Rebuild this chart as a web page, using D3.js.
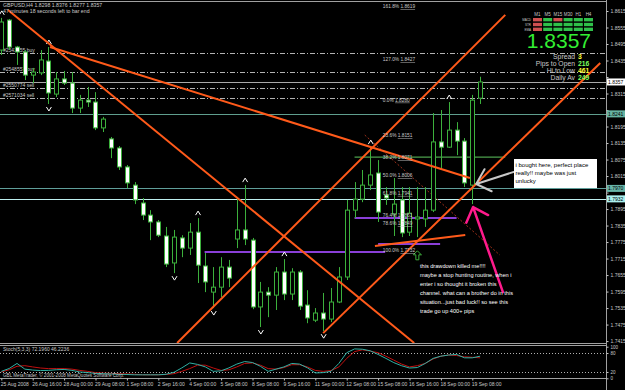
<!DOCTYPE html>
<html>
<head>
<meta charset="utf-8">
<script src="https://cdn.jsdelivr.net/npm/d3@7"></script>
<style>
body { margin: 0; background: #000; }
svg { display: block; font-family: "Liberation Sans", Arial, sans-serif; }
</style>
</head>
<body>
<svg id="chart" width="625" height="390"></svg>
<script>
// GBPUSD H4 candles
const open = [1.8473,1.8582,1.8484,1.8466,1.8382,1.8390,1.8433,1.8313,1.8368,1.8353,
  1.8262,1.8291,1.8284,1.8190,1.8150,1.8117,1.8048,1.7982,1.7917,1.7873,
  1.7848,1.7797,1.7699,1.7790,1.7753,1.7811,1.7688,1.7593,1.7611,1.7684,
  1.7786,1.7819,1.7782,1.7539,1.7593,1.7582,1.7666,1.7586,1.7666,1.7546,
  1.7491,1.7517,1.7495,1.7557,1.7648,1.7891,1.7931,1.7982,1.8026,1.7946,
  1.7877,1.7928,1.7811,1.7859,1.7859,1.7891,1.8139,1.8120,1.8182,1.8142,
  1.7982,1.8298];
const high = [1.8590,1.8586,1.8488,1.8473,1.8408,1.8473,1.8484,1.8393,1.8397,1.8393,
  1.8310,1.8339,1.8320,1.8230,1.8157,1.8124,1.8055,1.7993,1.7935,1.7891,
  1.7855,1.7830,1.7819,1.7800,1.7844,1.7862,1.7735,1.7684,1.7720,1.7710,
  1.7939,1.7982,1.7790,1.7630,1.7611,1.7684,1.7713,1.7680,1.7673,1.7600,
  1.7535,1.7590,1.7608,1.7684,1.7928,1.7993,1.8037,1.8120,1.8073,1.7975,
  1.8008,1.7975,1.7975,1.7975,1.7975,1.8244,1.8255,1.8284,1.8211,1.8153,
  1.8310,1.8376];
const low = [1.8455,1.8473,1.8419,1.8364,1.8353,1.8382,1.8277,1.8302,1.8346,1.8244,
  1.8244,1.8266,1.8182,1.8175,1.8080,1.8037,1.7971,1.7913,1.7855,1.7782,
  1.7793,1.7684,1.7662,1.7720,1.7728,1.7626,1.7593,1.7535,1.7575,1.7611,
  1.7753,1.7764,1.7531,1.7466,1.7502,1.7528,1.7564,1.7564,1.7528,1.7480,
  1.7484,1.7451,1.7484,1.7553,1.7637,1.7862,1.7920,1.7964,1.7848,1.7910,
  1.7797,1.7793,1.7797,1.7793,1.7830,1.7884,1.8037,1.8117,1.8091,1.7975,
  1.7913,1.8277];
const close = [1.8575,1.8484,1.8466,1.8382,1.8393,1.8437,1.8317,1.8368,1.8353,1.8262,
  1.8291,1.8284,1.8190,1.8222,1.8117,1.8048,1.7990,1.7928,1.7873,1.7848,
  1.7800,1.7695,1.7793,1.7753,1.7811,1.7691,1.7630,1.7611,1.7684,1.7644,
  1.7819,1.7786,1.7539,1.7593,1.7582,1.7666,1.7586,1.7666,1.7542,1.7499,
  1.7517,1.7495,1.7557,1.7648,1.7891,1.7931,1.7982,1.8019,1.7884,1.7935,
  1.7913,1.7808,1.7880,1.7866,1.7891,1.8139,1.8120,1.8182,1.8142,1.7990,
  1.8291,1.8357];

const stochMain = [22,31,47,29,26,24.5,25,27,28,25, 20,18,15.5,14.6,13.7,12.8,12,11,11,11,
  11,12.8,19,33,48.6,44,36,22,23.6,33, 45,53,50,38,22,29,36,47,45,33,
  17,18,22,47,81,93,92,87,75.5,63, 49.6,39.7,32.5,34,47,63,70,73.7,75.5,64.8, 64.8,70];
const stochSignal = [20,27,38,40,36,32.5,30.7,30.7,30.7,29, 25,22,18,16.4,15.5,14.6,13.7,12.8,11,11,
  11,12,14.6,22,30.7,41.5,41.5,32.5,25,27, 36,47,48.6,41.5,30.7,29,34,43,43,36,
  25,22,24.5,36,63,84.5,90,86,81,70, 57.6,45,36,40,47,61,70,73.7,72,68, 66.6,64.8];

const priceTicks = d3.range(21).map(i => +(1.8615 - i * 0.006).toFixed(4));
const timeLabels = ['25 Aug 2008','26 Aug 16:00','28 Aug 00:00','29 Aug 08:00','1 Sep 08:00','2 Sep 16:00',
  '4 Sep 00:00','5 Sep 08:00','8 Sep 08:00','9 Sep 16:00','11 Sep 00:00','12 Sep 08:00',
  '15 Sep 08:00','16 Sep 16:00','18 Sep 00:00','19 Sep 08:00'];
const stochTicks = [0, 20, 80, 100];

const fibNames = ['161.8','127.0','0.0','23.6','38.2','50.0','61.8','76.4','78.6','100.0'];
const fibPrices = [1.8619,1.8427,1.8280,1.8151,1.8071,1.8006,1.7941,1.7861,1.7849,1.7732];
const fibBar = 48.6;

const orderNames = ['#2541755 buy','#2548557 buy','#2550774 sell','#2571034 sell'];
const orderPrices = [1.8462,1.8393,1.8335,1.8299];

const levelPrices = [1.8241, 1.7970, 1.7932];
const levelColors = ['#5f9e8e', '#5f9e9a', '#bdeeee'];

// trend lines as [bar, price] anchors
const trendLines = [
  [[0.85, 1.8619], [52.6, 1.7408]],
  [[6.2, 1.8484], [59.7, 1.8008]],
  [[22.4, 1.7408], [64.2, 1.8601]],
  [[41.0, 1.7444], [76.3, 1.8426]],
  [[47.6, 1.7761], [59.1, 1.7801]]
];
const purpleLines = [[25.9, 48.9, 1.7739], [48.0, 55.9, 1.7768], [45.0, 58.0, 1.7862]];
const greenLines = [[45.0, 64.2, 1.8084]];
const fibTrend = [[46.3, 1.8164], [63.5, 1.7728]];

const fractalUp = [0, 6, 25, 31, 36, 47, 57];
const fractalDown = [6, 22, 27, 33, 41];
const buyArrows = [[53, 1.7725]];

const pointers = [
  {from: [63.9, 1.7593], to: [60.1, 1.7902], color: '#ff1a8c', width: 2.5},
  {from: [65.3, 1.8030], to: [60.5, 1.7986], color: '#c8c8c8', width: 2}
];

const tfNames = ['M1','M5','M15','M30','H1','H4'];
const rowNames = ['MACD','STR','EMA'];
const signalGrid = [[0,1,0,1,1,1],[0,1,1,1,1,1],[0,1,1,1,1,1]];
const statNames = ['Spread','Pips to Open','Hi to Low','Daily Av'];
const statValues = ['3','216','461','249'];
const statColors = ['#ffff33','#7cff5c','#ffff33','#7cff5c'];

const boughtNote = ['i bought here, perfect place', 'really!! maybe was just', 'unlucky'];
const drawdownNote = ['this drawdown killed me!!!!', 'maybe a stop hunting routine, when i',
  'enter i so thought it broken this', 'channel. what can a brother do in this',
  'situation...just bad luck!! so see this', 'trade go up 400+ pips'];

const plotRight = 606, mainBottom = 343;
const green = '#3cb03c', fg = '#c8c8c8';

const x = d3.scaleLinear().domain([0, 61]).range([1.3, 480.15]);
const y = d3.scaleLinear().domain([1.7408, 1.8655]).range([mainBottom, 0]);
const ys = d3.scaleLinear().domain([0, 100]).range([378.3, 346.7]);

const svg = d3.select('#chart');
svg.append('rect').attr('width', 625).attr('height', 390).attr('fill', '#000');

svg.append('defs').append('clipPath').attr('id', 'mainclip')
  .append('rect').attr('width', plotRight).attr('height', mainBottom);

const main = svg.append('g').attr('clip-path', 'url(#mainclip)');

// order lines
main.selectAll('.order').data(orderPrices).enter().append('line')
  .attr('x1', 0).attr('x2', plotRight)
  .attr('y1', d => Math.round(y(d)) + 0.5).attr('y2', d => Math.round(y(d)) + 0.5)
  .attr('stroke', '#b4b4b4').attr('stroke-dasharray', '5,2,1,2');
main.selectAll('.orderlbl').data(orderNames).enter().append('text')
  .attr('x', 3).attr('y', (d, i) => y(orderPrices[i]) - 1)
  .attr('fill', fg).attr('font-size', 5).text(d => d);

// bid line
main.append('line').attr('x1', 0).attr('x2', plotRight)
  .attr('y1', Math.round(y(close[61])) + 0.5).attr('y2', Math.round(y(close[61])) + 0.5)
  .attr('stroke', '#a8a8a8');

// horizontal levels
main.selectAll('.lvl').data(levelPrices).enter().append('line')
  .attr('x1', 0).attr('x2', plotRight)
  .attr('y1', d => Math.round(y(d)) + 0.5).attr('y2', d => Math.round(y(d)) + 0.5)
  .attr('stroke', (d, i) => levelColors[i]).attr('stroke-width', 1.2);

main.selectAll('.gline').data(greenLines).enter().append('line')
  .attr('x1', d => x(d[0])).attr('x2', d => x(d[1]))
  .attr('y1', d => y(d[2])).attr('y2', d => y(d[2]))
  .attr('stroke', '#4c9f4c').attr('stroke-width', 1.2);

main.selectAll('.pline').data(purpleLines).enter().append('line')
  .attr('x1', d => x(d[0])).attr('x2', d => x(d[1]))
  .attr('y1', d => y(d[2])).attr('y2', d => y(d[2]))
  .attr('stroke', '#8a3fd8').attr('stroke-width', 2);

// fib trend line
main.append('line')
  .attr('x1', x(fibTrend[0][0])).attr('y1', y(fibTrend[0][1]))
  .attr('x2', x(fibTrend[1][0])).attr('y2', y(fibTrend[1][1]))
  .attr('stroke', '#a0301a').attr('stroke-dasharray', '2,2');

// candles
const candle = main.selectAll('.candle').data(d3.range(open.length)).enter().append('g');
candle.append('line')
  .attr('x1', i => Math.round(x(i)) + 0.5).attr('x2', i => Math.round(x(i)) + 0.5)
  .attr('y1', i => y(high[i])).attr('y2', i => y(low[i]))
  .attr('stroke', green);
candle.append('rect')
  .attr('x', i => Math.round(x(i)) - 1.5)
  .attr('width', 4)
  .attr('y', i => y(Math.max(open[i], close[i])))
  .attr('height', i => Math.max(1, Math.abs(y(open[i]) - y(close[i]))))
  .attr('fill', i => close[i] >= open[i] ? '#000' : '#fff')
  .attr('stroke', green);

// fractal markers
const chevron = (cx, cy, up) => up
  ? `M${cx - 2.5},${cy + 2}L${cx},${cy - 2}L${cx + 2.5},${cy + 2}`
  : `M${cx - 2.5},${cy - 2}L${cx},${cy + 2}L${cx + 2.5},${cy - 2}`;
main.selectAll('.fup').data(fractalUp).enter().append('path')
  .attr('d', i => chevron(x(i) + 0.5, y(high[i]) - 5, true))
  .attr('fill', 'none').attr('stroke', '#fff');
main.selectAll('.fdn').data(fractalDown).enter().append('path')
  .attr('d', i => chevron(x(i) + 0.5, y(low[i]) + 5, false))
  .attr('fill', 'none').attr('stroke', '#fff');

// buy arrow
main.selectAll('.buy').data(buyArrows).enter().append('path')
  .attr('d', d => {
    const cx = x(d[0]), cy = y(d[1]);
    return `M${cx},${cy - 5}L${cx + 4},${cy - 1}L${cx + 1.5},${cy - 1}L${cx + 1.5},${cy + 4}` +
      `L${cx - 1.5},${cy + 4}L${cx - 1.5},${cy - 1}L${cx - 4},${cy - 1}Z`;
  })
  .attr('fill', '#000').attr('stroke', '#3cb03c');

// trend lines
main.selectAll('.trend').data(trendLines).enter().append('line')
  .attr('x1', d => x(d[0][0])).attr('y1', d => y(d[0][1]))
  .attr('x2', d => x(d[1][0])).attr('y2', d => y(d[1][1]))
  .attr('stroke', '#ff5a1a').attr('stroke-width', 2);

// fib labels (78.6% sits just under its level so it clears 76.4%)
const fibText = main.selectAll('.fib').data(fibNames).enter().append('text')
  .attr('x', x(fibBar)).attr('y', (d, i) => y(fibPrices[i]) + (d === '78.6' ? 3.5 : -1.5))
  .attr('fill', fg).attr('font-size', 4.8);
fibText.append('tspan').text(d => d + '% ');
fibText.append('tspan').attr('text-decoration', 'underline').text((d, i) => fibPrices[i].toFixed(4));

// pointer arrows
pointers.forEach(p => {
  const x0 = x(p.from[0]), y0 = y(p.from[1]), x1 = x(p.to[0]), y1 = y(p.to[1]);
  const a = Math.atan2(y0 - y1, x0 - x1), len = 17, spread = 0.75;
  main.append('path')
    .attr('d', `M${x0},${y0}L${x1},${y1}M${x1 + len * Math.cos(a - spread)},${y1 + len * Math.sin(a - spread)}` +
      `L${x1},${y1}L${x1 + len * Math.cos(a + spread)},${y1 + len * Math.sin(a + spread)}`)
    .attr('fill', 'none').attr('stroke', p.color).attr('stroke-width', p.width)
    .attr('stroke-linecap', 'round').attr('stroke-linejoin', 'round');
});

// note boxes
main.append('rect').attr('x', 514).attr('y', 159).attr('width', 83).attr('height', 29).attr('fill', '#fff');
main.selectAll('.bnote').data(boughtNote).enter().append('text')
  .attr('x', 515.5).attr('y', (d, i) => 167 + i * 7.8)
  .attr('fill', '#000').attr('font-size', 6).text(d => d);

main.selectAll('.dnote').data(drawdownNote).enter().append('text')
  .attr('x', 420).attr('y', (d, i) => 268 + i * 9)
  .attr('fill', '#fff').attr('font-size', 5.6).text(d => d);

// top-left info
svg.append('text').attr('x', 3).attr('y', 7).attr('fill', fg).attr('font-size', 5.2)
  .text(`GBPUSD,H4  ${open[61].toFixed(4)} ${high[61].toFixed(4)} ${low[61].toFixed(4)} ${close[61].toFixed(4)}`);
svg.append('text').attr('x', 3).attr('y', 12.5).attr('fill', fg).attr('font-size', 5.2)
  .text('47 minutes 18 seconds left to bar end');

// signal grid panel
const col = d3.scaleBand().domain(tfNames).range([533, 593]).paddingInner(0.12);
const row = d3.scaleBand().domain(rowNames).range([18, 31]).paddingInner(0.3);
svg.selectAll('.tf').data(tfNames).enter().append('text')
  .attr('x', d => col(d) + col.bandwidth() / 2).attr('y', 16)
  .attr('text-anchor', 'middle').attr('fill', fg).attr('font-size', 4.5).text(d => d);
svg.selectAll('.rn').data(rowNames).enter().append('text')
  .attr('x', 531).attr('y', d => row(d) + row.bandwidth())
  .attr('text-anchor', 'end').attr('fill', fg).attr('font-size', 3).text(d => d);
rowNames.forEach((r, ri) => {
  svg.selectAll('.cell' + ri).data(signalGrid[ri]).enter().append('rect')
    .attr('x', (d, ci) => col(tfNames[ci])).attr('y', row(r))
    .attr('width', col.bandwidth()).attr('height', row.bandwidth())
    .attr('fill', d => d ? '#2fc24a' : '#d05050');
});
svg.append('text').attr('x', 591).attr('y', 48).attr('text-anchor', 'end')
  .attr('fill', '#33ee33').attr('font-size', 21).text(close[61].toFixed(4));
svg.selectAll('.sn').data(statNames).enter().append('text')
  .attr('x', 575).attr('y', (d, i) => 58.5 + i * 7.3).attr('text-anchor', 'end')
  .attr('fill', fg).attr('font-size', 6.8).text(d => d);
svg.selectAll('.sv').data(statValues).enter().append('text')
  .attr('x', 578).attr('y', (d, i) => 58.5 + i * 7.3)
  .attr('fill', (d, i) => statColors[i]).attr('font-size', 6.8).attr('font-weight', 'bold').text(d => d);

// frame
const frame = svg.append('g').attr('stroke', '#a0a0a0').attr('shape-rendering', 'crispEdges');
frame.append('line').attr('x1', 0).attr('x2', plotRight).attr('y1', 1.5).attr('y2', 1.5);
frame.append('line').attr('x1', 0).attr('x2', plotRight).attr('y1', 343.5).attr('y2', 343.5);
frame.append('line').attr('x1', 0).attr('x2', plotRight).attr('y1', 345.5).attr('y2', 345.5);
frame.append('line').attr('x1', 0).attr('x2', plotRight).attr('y1', 378.5).attr('y2', 378.5);

// price boxes on axis (they cover the tick labels beneath them)
const boxes = [[close[61], '#ffffff'], [levelPrices[0], '#66b4a2'], [levelPrices[1], '#66b4a8'], [levelPrices[2], '#aaf0ee']];

// price axis
const pAxis = svg.append('g').attr('transform', `translate(${plotRight + 0.5},0)`)
  .call(d3.axisRight(y).tickValues(priceTicks).tickFormat(d3.format('.4f')).tickSize(2).tickSizeOuter(0));
pAxis.select('.domain').attr('stroke', '#a0a0a0').attr('d', 'M0,0V390');
pAxis.selectAll('line').attr('stroke', fg);
pAxis.selectAll('text').attr('fill', fg).attr('font-size', 5).attr('x', 4)
  .attr('font-family', '"Liberation Sans", Arial, sans-serif')
  .style('display', d => boxes.some(b => Math.abs(y(b[0]) - y(d)) < 6) ? 'none' : null);

boxes.forEach(b => {
  svg.append('rect').attr('x', 607).attr('y', y(b[0]) - 3.5).attr('width', 18).attr('height', 7).attr('fill', b[1]);
  svg.append('text').attr('x', 608).attr('y', y(b[0]) + 2).attr('fill', '#000').attr('font-size', 5).text(b[0].toFixed(4));
});

// stochastic window
const sw = svg.append('g');
sw.selectAll('.lvl').data([20, 80]).enter().append('line')
  .attr('x1', 0).attr('x2', plotRight).attr('y1', d => Math.round(ys(d)) + 0.5).attr('y2', d => Math.round(ys(d)) + 0.5)
  .attr('stroke', '#b0b0b0').attr('stroke-dasharray', '1,2');
const sLine = d3.line().x((d, i) => x(i)).y(d => ys(d));
sw.append('path').datum(stochSignal).attr('d', sLine).attr('fill', 'none').attr('stroke', '#c01010');
sw.append('path').datum(stochMain).attr('d', sLine).attr('fill', 'none').attr('stroke', '#2fb0a4');
const sAxis = svg.append('g').attr('transform', `translate(${plotRight + 0.5},0)`)
  .call(d3.axisRight(ys).tickValues(stochTicks).tickSize(2));
sAxis.select('.domain').remove();
sAxis.selectAll('line').attr('stroke', fg);
sAxis.selectAll('text').attr('fill', fg).attr('font-size', 4.5).attr('x', 4)
  .attr('font-family', '"Liberation Sans", Arial, sans-serif');
svg.append('text').attr('x', 3).attr('y', 351).attr('fill', fg).attr('font-size', 5)
  .text(`Stoch(5,3,3) 72.1960 46.2236`);
svg.append('text').attr('x', 3).attr('y', 376.5).attr('fill', fg).attr('font-size', 4.6)
  .text('GBL MetaTrader, \u00a9 2001-2008 MetaQuotes Software Corp.');

// time axis
const tAxis = svg.append('g').attr('transform', 'translate(0,378.5)')
  .call(d3.axisBottom(x).tickValues(d3.range(0, 61, 4)).tickFormat((d, i) => timeLabels[i]).tickSize(2).tickSizeOuter(0));
tAxis.select('.domain').remove();
tAxis.selectAll('line').attr('stroke', fg);
tAxis.selectAll('text').attr('fill', fg).attr('font-size', 5).attr('text-anchor', 'start').attr('dx', -1).attr('y', 4)
  .attr('font-family', '"Liberation Sans", Arial, sans-serif');
</script>
</body>
</html>
